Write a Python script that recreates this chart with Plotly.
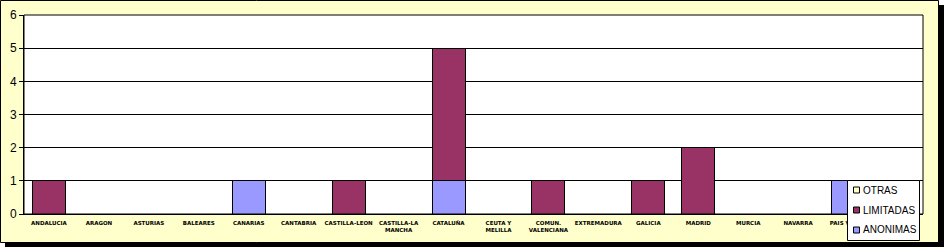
import plotly.graph_objects as go

categories = ["ANDALUCIA", "ARAGON", "ASTURIAS", "BALEARES", "CANARIAS", "CANTABRIA",
              "CASTILLA-LEON", "CASTILLA-LA<br>MANCHA", "CATALUÑA", "CEUTA Y<br>MELILLA",
              "COMUN.<br>VALENCIANA", "EXTREMADURA", "GALICIA", "MADRID", "MURCIA",
              "NAVARRA", "PAIS VASCO", "RIOJA"]
anonimas = [0, 0, 0, 0, 1, 0, 0, 0, 1, 0, 0, 0, 0, 0, 0, 0, 1, 0]
limitadas = [1, 0, 0, 0, 0, 0, 1, 0, 4, 0, 1, 0, 1, 2, 0, 0, 0, 0]
otras = [0] * 18
y_ticks = [0, 1, 2, 3, 4, 5, 6]
series = [("ANONIMAS", anonimas, "#9999FF"),
          ("LIMITADAS", limitadas, "#993366"),
          ("OTRAS", otras, "#FFFFCC")]

W, H = 944, 247
L, R, T, B = 24, 21, 15, 33
pw, ph = W - L - R, H - T - B

def px(x):
    return (x - L) / pw

def py(y):
    return (H - B - y) / ph

fig = go.Figure()
for name, vals, col in series:
    fig.add_trace(go.Bar(x=categories, y=vals, name=name,
                         marker=dict(color=col, line=dict(color="black", width=1)),
                         width=0.66, showlegend=False))

shapes = [
    dict(type="rect", xref="paper", yref="paper", x0=px(5), x1=px(944), y0=py(247), y1=py(5),
         fillcolor="black", line=dict(width=0), layer="below"),
    dict(type="rect", xref="paper", yref="paper", x0=px(0.5), x1=px(938.5), y0=py(242.5), y1=py(0.5),
         fillcolor="#FFFFCC", line=dict(color="black", width=1), layer="below"),
    dict(type="rect", xref="paper", yref="paper", x0=0, x1=1, y0=0, y1=1,
         fillcolor="white", line=dict(width=0), layer="below"),
    dict(type="rect", xref="paper", yref="paper", x0=0, x1=1, y0=0, y1=1,
         fillcolor="rgba(0,0,0,0)", line=dict(color="black", width=1), layer="above"),
    # legend box
    dict(type="rect", xref="paper", yref="paper", x0=px(847.5), x1=px(919.5), y0=py(240.5), y1=py(180.5),
         fillcolor="white", line=dict(color="black", width=1), layer="above"),
]
annotations = []
# legend entries, top to bottom: OTRAS, LIMITADAS, ANONIMAS
row_y = [190, 210, 230]
for (name, vals, col), ry in zip(reversed(series), row_y):
    shapes.append(dict(type="rect", xref="paper", yref="paper",
                       x0=px(853.5), x1=px(859.5), y0=py(ry + 3), y1=py(ry - 3),
                       fillcolor=col, line=dict(color="black", width=1), layer="above"))
    annotations.append(dict(xref="paper", yref="paper", x=px(861), y=py(ry),
                            xanchor="left", yanchor="middle", text=name, showarrow=False,
                            font=dict(family="Liberation Sans, Arial", size=10, color="black")))

fig.update_layout(
    width=W, height=H,
    margin=dict(l=L, r=R, t=T, b=B, autoexpand=False),
    barmode="stack",
    bargap=0.34,
    paper_bgcolor="white",
    plot_bgcolor="white",
    shapes=shapes,
    annotations=annotations,
    showlegend=False,
    xaxis=dict(showline=True, linecolor="black", linewidth=1, ticks="",
               tickfont=dict(family="DejaVu Sans", size=5.5, color="black", weight="bold"),
               tickangle=0, fixedrange=True, automargin=False, ticklabelstandoff=3),
    yaxis=dict(range=[0, 6], tickvals=y_ticks, showgrid=True, gridcolor="black", gridwidth=1,
               showline=True, linecolor="black", linewidth=1, ticks="outside", ticklen=4,
               tickcolor="black",
               tickfont=dict(family="Liberation Sans, Arial", size=12, color="black"),
               zeroline=False, fixedrange=True, automargin=False),
)

fig.write_html("out.html")
